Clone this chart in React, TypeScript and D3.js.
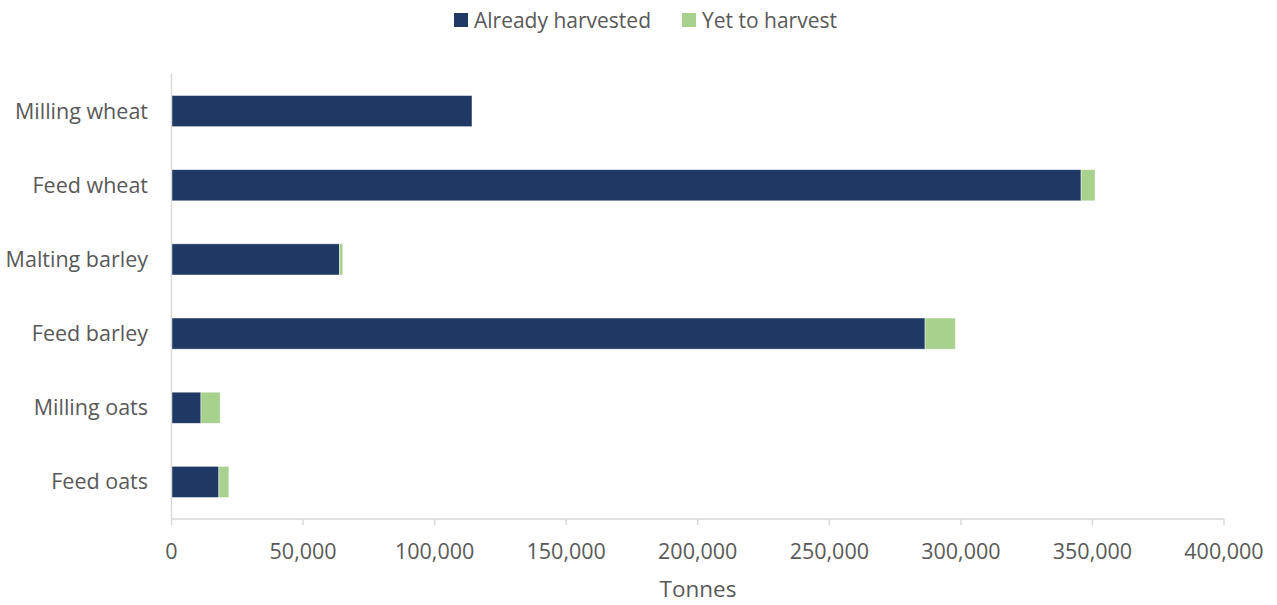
import React from "react";
import * as d3 from "d3";

const categories = ["Milling wheat", "Feed wheat", "Malting barley", "Feed barley", "Milling oats", "Feed oats"];
const alreadyHarvested = [114200, 345700, 63800, 286400, 11200, 18000];
const yetToHarvest = [0, 5300, 1300, 11500, 7300, 3800];
const xTicks = [0, 50000, 100000, 150000, 200000, 250000, 300000, 350000, 400000];
const seriesNames = ["Already harvested", "Yet to harvest"];
const seriesColors = ["#203864", "#A9D18E"];

const W = 1277, H = 605;
const left = 171.5, right = 1224, top = 74, bottom = 519;
const FONT = "'Open Sans', sans-serif";
const TEXT = "#595959";

export default function App() {
  const x = d3.scaleLinear().domain([0, 400000]).range([left, right]);
  const y = d3.scaleBand().domain(categories).range([top, bottom]).paddingInner(0.58).paddingOuter(0.29);
  const fmt = d3.format(",");
  const stacked = d3.stack<any>().keys(["a", "b"])(categories.map((c, i) => ({ c, a: alreadyHarvested[i], b: yetToHarvest[i] })));
  return (
    <svg width={W} height={H} style={{ position: "absolute", left: 0, top: 0, fontFamily: FONT }}>
      <rect width={W} height={H} fill="#fff" />
      {/* legend */}
      <g>
        <rect x={454} y={13} width={14} height={14} fill={seriesColors[0]} />
        <text x={474} y={21} dy="0.35em" fontSize={21} fill={TEXT}>{seriesNames[0]}</text>
        <rect x={682} y={13} width={14} height={14} fill={seriesColors[1]} />
        <text x={702} y={21} dy="0.35em" fontSize={21} fill={TEXT}>{seriesNames[1]}</text>
      </g>
      {/* bars */}
      {stacked.map((s, si) => (
        <g key={si}>
          {s.map((d, i) => (
            d[1] - d[0] > 0 ? (
              <rect key={i} x={x(d[0])} y={y(categories[i])!} width={x(d[1]) - x(d[0])} height={y.bandwidth()}
                fill={seriesColors[si]} stroke="#ffffff" strokeOpacity={0.6} strokeWidth={0.75} />
            ) : null
          ))}
        </g>
      ))}
      {/* axes */}
      <line x1={left} x2={left} y1={top} y2={bottom} stroke="#d9d9d9" strokeWidth={1.5} />
      <line x1={left} x2={right} y1={bottom} y2={bottom} stroke="#d9d9d9" strokeWidth={1.5} />
      {xTicks.map((t) => (
        <g key={t}>
          <line x1={x(t)} x2={x(t)} y1={bottom} y2={bottom + 6} stroke="#d9d9d9" strokeWidth={1.5} />
          <text x={x(t)} y={551} dy="0.35em" textAnchor="middle" fontSize={21.5} fill={TEXT}>{fmt(t)}</text>
        </g>
      ))}
      {categories.map((c) => (
        <text key={c} x={148} y={y(c)! + y.bandwidth() / 2} dy="0.35em" textAnchor="end" fontSize={21.5} fill={TEXT}>{c}</text>
      ))}
      <text x={698} y={589} dy="0.35em" textAnchor="middle" fontSize={22.5} fill={TEXT}>Tonnes</text>
    </svg>
  );
}
